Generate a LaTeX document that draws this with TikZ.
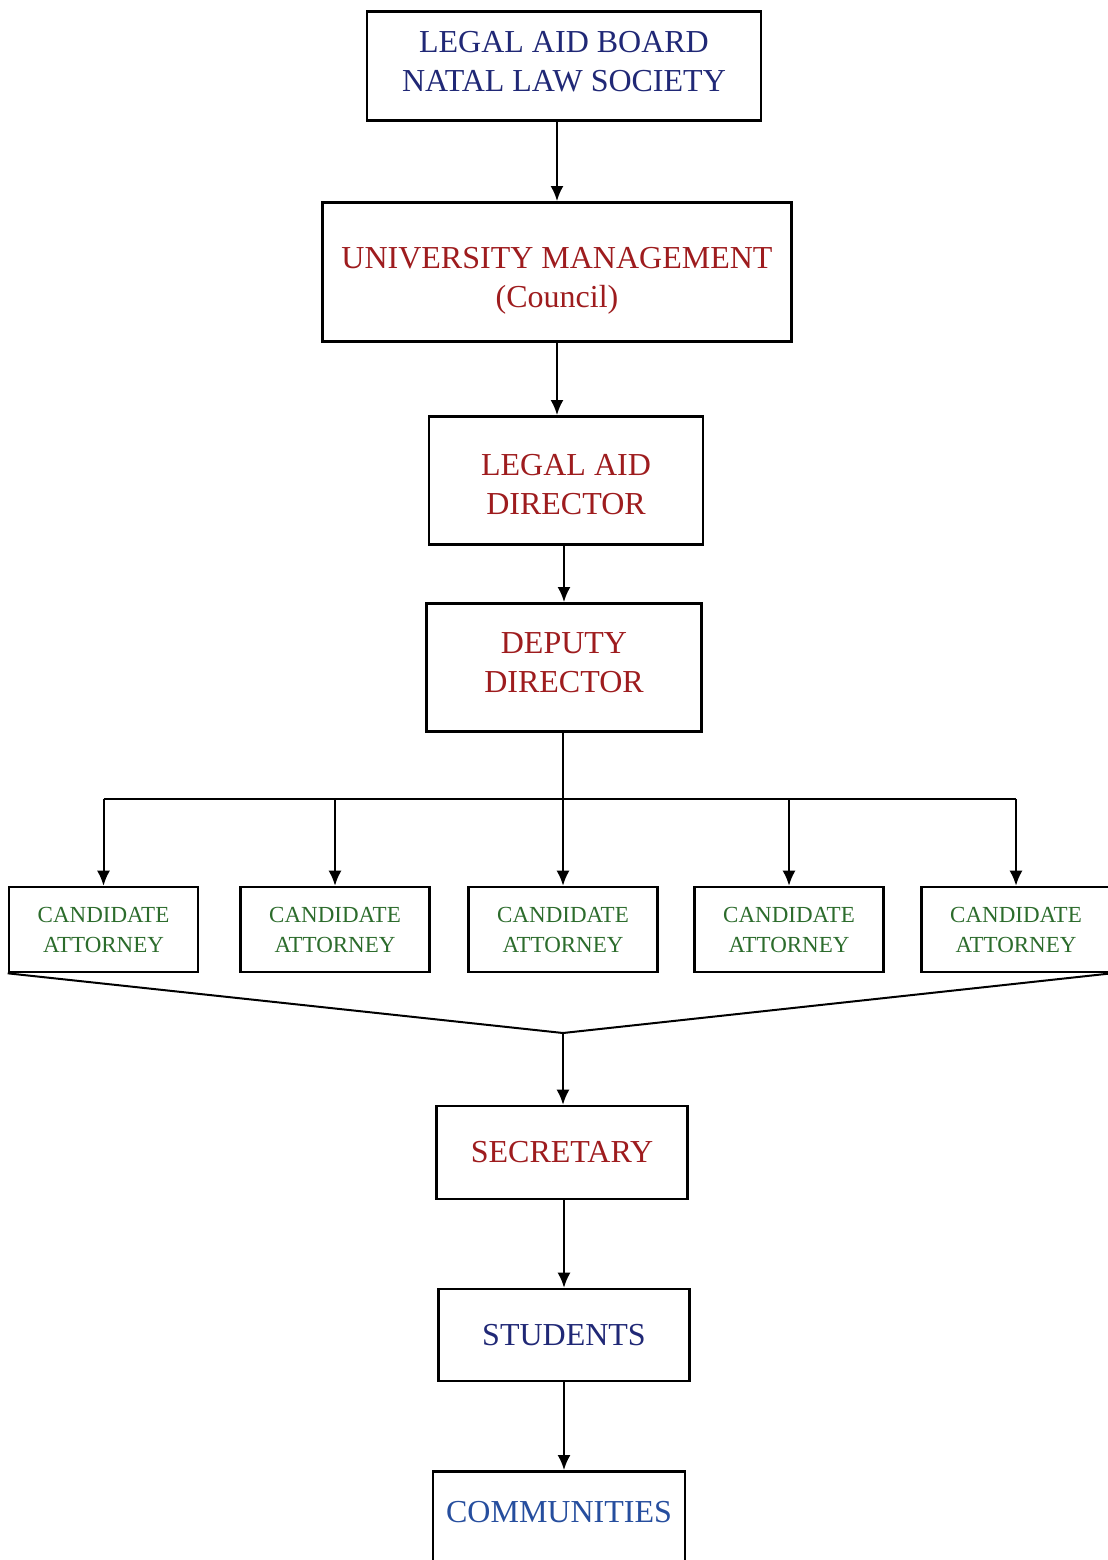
\documentclass[tikz,border=0pt]{standalone}
\usepackage{fontspec}
\setmainfont{Liberation Serif}
\usetikzlibrary{arrows.meta}
\definecolor{navyblue}{RGB}{32,40,118}
\definecolor{darkred}{RGB}{158,28,30}
\definecolor{candgreen}{RGB}{44,108,44}
\definecolor{commblue}{RGB}{38,78,158}
\tikzset{
  box/.style={draw=black, line width=1.3pt, fill=white, align=center, inner sep=0pt,
    font=\fontsize{16}{19.5}\selectfont},
  candbox/.style={box, minimum width=94.5pt, minimum height=42.5pt, text=candgreen,
    font=\fontsize{11.5}{15}\selectfont},
  arr/.style={line width=1pt, -{Latex[length=7.5pt,width=6.5pt]}},
  link/.style={line width=1pt}
}
\begin{document}
\begin{tikzpicture}[x=0.5pt,y=0.5pt,yscale=-1,xscale=1]
\useasboundingbox (0,0) rectangle (1108,1560);

% Top boxes
\node [box, text=navyblue, minimum width=197pt, text height=40pt, text depth=14.5pt, anchor=north] (board) at (564,10) {LEGAL AID BOARD\\NATAL LAW SOCIETY};
\node [box, text=darkred, minimum width=234.5pt, text height=52.5pt, text depth=17pt, anchor=north] (council) at (557,201) {UNIVERSITY MANAGEMENT\\(Council)};
\node [box, text=darkred, minimum width=137pt, text height=49pt, text depth=15pt, anchor=north] (director) at (566,415) {LEGAL AID\\DIRECTOR};
\node [box, text=darkred, minimum width=137.5pt, text height=44.5pt, text depth=19.5pt, anchor=north] (deputy) at (564,602) {DEPUTY\\DIRECTOR};

% Candidate attorneys
\node [candbox] (cand1) at (103.5,929.5) {CANDIDATE\\ATTORNEY};
\node [candbox] (cand2) at (335,929.5) {CANDIDATE\\ATTORNEY};
\node [candbox] (cand3) at (563,929.5) {CANDIDATE\\ATTORNEY};
\node [candbox] (cand4) at (789,929.5) {CANDIDATE\\ATTORNEY};
\node [candbox] (cand5) at (1016,929.5) {CANDIDATE\\ATTORNEY};

% Bottom boxes
\node [box, text=darkred, minimum width=125.5pt, minimum height=46.5pt] (secretary) at (562,1152.5) {SECRETARY};
\node [box, text=navyblue, minimum width=125.5pt, minimum height=46pt] (students) at (564,1335) {STUDENTS};
\node [box, text=commblue, minimum width=126pt, text height=25.5pt, text depth=30pt, anchor=north] (communities) at (559,1470) {COMMUNITIES};

\coordinate (bus) at (563,799);
\coordinate (meet) at (563,1033);

% Connectors
\draw [arr] (council.north |- board.south) -- (council.north);
\draw [arr] (council.south) -- (council.south |- director.north);
\draw [arr] (deputy.north |- director.south) -- (deputy.north);
\draw [link] (deputy.south -| bus) -- (bus);
\draw [link] (cand1.north |- bus) -- (cand5.north |- bus);
\foreach \c in {cand1,cand2,cand3,cand4,cand5}
  \draw [arr] (\c.north |- bus) -- (\c.north);
\draw [link] (cand1.south west) -- (meet) -- (cand5.south east);
\draw [arr] (meet) -- (meet |- secretary.north);
\draw [arr] (students.north |- secretary.south) -- (students.north);
\draw [arr] (students.south) -- (students.south |- communities.north);
\end{tikzpicture}
\end{document}
